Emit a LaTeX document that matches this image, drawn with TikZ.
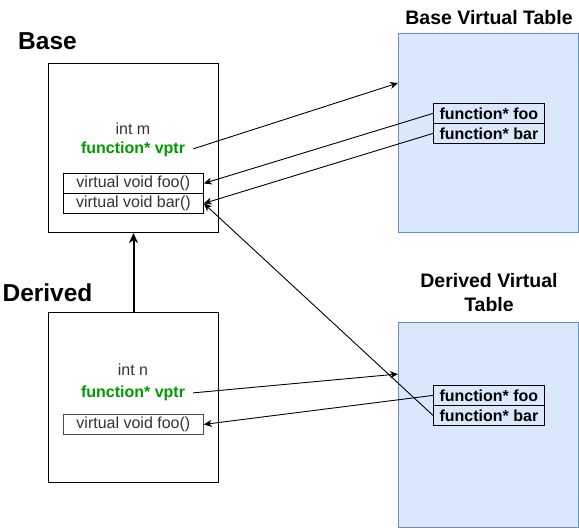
\documentclass[tikz,border=0pt]{standalone}
\usepackage{fontspec}
\setmainfont{Liberation Sans}
\usetikzlibrary{arrows.meta}
\definecolor{tblfill}{HTML}{DAE8FC}
\definecolor{tbldraw}{HTML}{6C8EBF}
\definecolor{vgreen}{HTML}{009900}
\definecolor{txt}{HTML}{333333}
\begin{document}
\begin{tikzpicture}[x=1pt,y=-1pt,
  classbox/.style={draw=black, line width=1pt, inner sep=0pt, anchor=north west, minimum width=170pt, minimum height=170pt},
  tablebox/.style={draw=tbldraw, fill=tblfill, line width=1pt, inner sep=0pt, anchor=north west, minimum width=180pt, minimum height=200pt},
  methbox/.style={draw=black, line width=0.8pt, inner sep=0pt, anchor=north west, minimum width=140pt, minimum height=20pt, text=txt, font=\fontsize{16}{18}\selectfont},
  rowbox/.style={draw=black, line width=0.8pt, inner sep=0pt, anchor=north west, minimum width=111pt, minimum height=20pt, font=\fontsize{16}{18}\selectfont\bfseries},
  plain/.style={inner sep=0pt, anchor=base, text=txt, font=\fontsize{16}{18}\selectfont},
  vptr/.style={inner sep=0pt, anchor=base, text=vgreen, font=\fontsize{16}{18}\selectfont\bfseries},
  biglabel/.style={inner sep=0pt, anchor=base, font=\fontsize{24.5}{27}\selectfont\bfseries},
  title/.style={inner sep=0pt, anchor=base, align=center, font=\fontsize{19.5}{24}\selectfont\bfseries},
  arr/.style={line width=0.9pt, -{Stealth[length=8pt,width=7pt,inset=2.5pt]}},
  inherit/.style={line width=2pt, -{Stealth[length=10pt,width=9pt,inset=3pt]}}
]
\useasboundingbox (0,0) rectangle (579,528);

% class boxes
\node[classbox, minimum height=169pt] (bbox) at (48,63) {};
\node[classbox] (dbox) at (48,312) {};
\node[biglabel] (lbase) at (47.5,49) {Base};
\node[biglabel] (lder) at (47.5,301) {Derived};

\node[plain] (bint) at (133,134) {int m};
\node[vptr] (bvptr) at (133,153) {function* vptr};
\node[methbox] (bfoo) at (63,173) {virtual void foo()};
\node[methbox] (bbar) at (63,193) {virtual void bar()};

\node[plain] (dint) at (133,375) {int n};
\node[vptr] (dvptr) at (133,397) {function* vptr};
\node[methbox, draw=black!70] (dfoo) at (63,414) {virtual void foo()};

% tables
\node[tablebox, minimum height=199pt] (btab) at (398,33) {};
\node[tablebox, minimum height=205pt] (dtab) at (398,322) {};
\node[title] (tbt) at (489,24) {Base Virtual Table};
\node[title] (tdt) at (489,311) {Derived Virtual\\Table};

\node[rowbox] (btfoo) at (433,103) {function* foo};
\node[rowbox] (btbar) at (433,123) {function* bar};
\node[rowbox] (dtfoo) at (433,385) {function* foo};
\node[rowbox] (dtbar) at (433,405) {function* bar};

% connectors
\coordinate (bvend) at (398,83);
\coordinate (dvend) at (398,374);
\draw[arr] ([xshift=8pt]bvptr.east) -- (bvend);
\draw[arr] ([xshift=8pt]dvptr.east) -- (dvend);
\draw[arr] (btfoo.west) -- (bfoo.east);
\draw[arr] (btbar.west) -- (bbar.east);
\draw[arr] (dtbar.west) -- (bbar.east);
\draw[arr] (dtfoo.west) -- (dfoo.east);
\draw[inherit] (dbox.north) -- (bbox.south);
\end{tikzpicture}
\end{document}
